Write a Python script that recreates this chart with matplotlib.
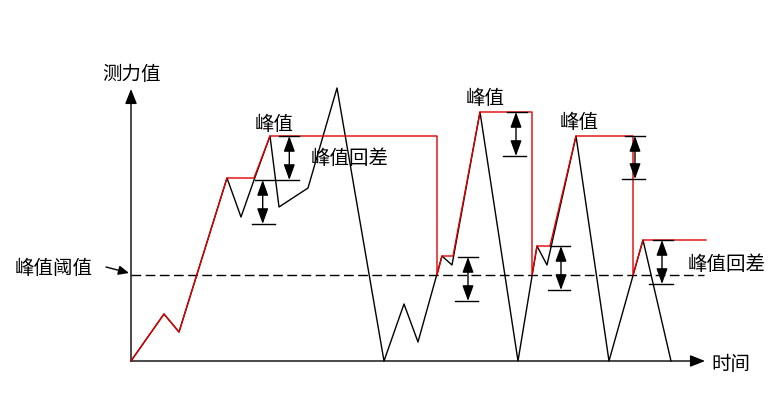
import matplotlib
matplotlib.use("Agg")
import matplotlib.pyplot as plt

plt.rcParams['font.family'] = ['Noto Sans CJK SC', 'DejaVu Sans']

# measured signal (time, force)
sig_t = [0, 33, 48, 96, 110, 123, 139, 148, 177, 206, 253, 273, 287, 311, 321, 349, 387, 406, 416, 445, 478, 512, 540]
sig_f = [0, 47, 29, 183, 144, 181, 225, 154, 173, 273, 0, 57, 19, 105, 96, 249, 0, 115, 96, 225, 0, 121, 0]

# peak-hold envelope
env_t = [0, 33, 48, 96, 123, 139, 306, 306, 311, 322, 349, 401, 401, 406, 419, 445, 502, 502, 512, 575]
env_f = [0, 47, 29, 183, 183, 225, 225, 86, 105, 105, 249, 249, 86, 115, 115, 225, 225, 86, 121, 121]

threshold = 86

# hysteresis arrows: x, top, bottom
arr_x = [131.7, 158.3, 337, 385, 430, 504, 531]
arr_top = [181, 225, 104, 249, 115, 225, 121]
arr_bot = [137, 181, 60, 205, 71, 182, 77]

# short horizontal marks: level, x start, x end
mark_f = [181, 137, 225, 104, 60, 249, 205, 115, 71, 225, 182, 121, 77]
mark_t0 = [124, 121, 148, 327, 324, 376, 372, 419, 417, 494, 491, 522, 518]
mark_t1 = [168, 144, 168, 347, 347, 396, 395, 439, 439, 514, 514, 542, 542]

fig = plt.figure(figsize=(7.7, 4.01), dpi=100)
ax = fig.add_axes([0, 0, 1, 1])
ax.set_xlim(-131, 639)
ax.set_ylim(-40, 361)
ax.axis('off')

# axes with arrows
ax.annotate('', xy=(0, 272), xytext=(0, 0),
            arrowprops=dict(arrowstyle='-|>,head_length=0.45,head_width=0.18',
                            mutation_scale=20, lw=1.0, color='black',
                            shrinkA=0, shrinkB=0))
ax.annotate('', xy=(574, 0), xytext=(0, 0),
            arrowprops=dict(arrowstyle='-|>,head_length=0.45,head_width=0.18',
                            mutation_scale=20, lw=1.0, color='black',
                            shrinkA=0, shrinkB=0))

# threshold
ax.plot([0, 573], [threshold, threshold], color='black', lw=1.0,
        dashes=(7, 3.2), zorder=2)

ax.plot(sig_t, sig_f, color='black', lw=1.0, zorder=3)
ax.plot(env_t, env_f, color='#e00000', lw=1.0, zorder=4)

for f, t0, t1 in zip(mark_f, mark_t0, mark_t1):
    ax.plot([t0, t1], [f, f], color='black', lw=1.0, zorder=5)

for x, top, bot in zip(arr_x, arr_top, arr_bot):
    ax.annotate('', xy=(x, top), xytext=(x, bot),
                arrowprops=dict(arrowstyle='<|-|>,head_length=0.47,head_width=0.17',
                                mutation_scale=20, lw=1.0, color='black',
                                shrinkA=0, shrinkB=0), zorder=6)

fs = 14
ax.text(0.7, 286, '测力值', fontsize=fs, ha='center', va='center')
ax.text(600, -3.5, '时间', fontsize=fs, ha='center', va='center')
ax.text(143, 237, '峰值', fontsize=fs, ha='center', va='center')
ax.text(219, 202, '峰值回差', fontsize=fs, ha='center', va='center')
ax.text(354, 263, '峰值', fontsize=fs, ha='center', va='center')
ax.text(448, 238, '峰值', fontsize=fs, ha='center', va='center')
ax.text(596, 97, '峰值回差', fontsize=fs, ha='center', va='center')
ax.text(-77, 93, '峰值阈值', fontsize=fs, ha='center', va='center')
ax.annotate('', xy=(-2, 88), xytext=(-25, 94),
            arrowprops=dict(arrowstyle='-|>,head_length=0.45,head_width=0.2',
                            mutation_scale=14, lw=1.0, color='black',
                            shrinkA=0, shrinkB=0))

fig.savefig('out.png', dpi=100)
